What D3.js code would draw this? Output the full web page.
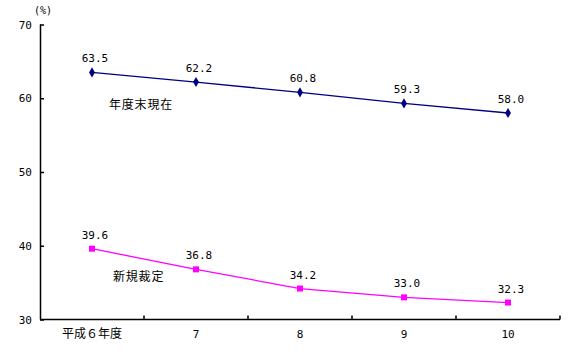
<!DOCTYPE html>
<html><head><meta charset="utf-8">
<script src="https://cdn.jsdelivr.net/npm/d3@7"></script>
<style>body{margin:0;background:#fff}svg{display:block}text{font-family:"DejaVu Sans Mono",monospace;font-size:11px;fill:#000}</style>
</head><body><svg id="c" width="581" height="364"></svg>
<script>
const categories = ["平成６年度", "7", "8", "9", "10"];
const seriesNames = ["年度末現在", "新規裁定"];
const endOfYear = [63.5, 62.2, 60.8, 59.3, 58.0];
const newAward = [39.6, 36.8, 34.2, 33.0, 32.3];
const yTicks = [30, 40, 50, 60, 70];

const svg = d3.select("#c");
const x = d3.scaleBand().domain(categories).range([40, 560]);
const y = d3.scaleLinear().domain([30, 70]).range([319.5, 24.5]);
const cx = d => x(d) + x.bandwidth() / 2;

// y axis
const ya = svg.append("g").attr("transform", "translate(40,0)")
  .call(d3.axisLeft(y).tickValues(yTicks).tickSize(-4).tickPadding(8).tickFormat(d3.format("d")));
ya.select(".domain").attr("stroke", "#000").attr("stroke-width", 1.5).attr("d", `M0.5,${y(70)}V${y(30)}`);
ya.selectAll(".tick line").attr("stroke", "#000").attr("stroke-width", 1.5);
ya.selectAll(".tick text").attr("font-family", "DejaVu Sans Mono").attr("font-size", 11).attr("dx", 0);

// x axis
const xa = svg.append("g").attr("transform", `translate(0,${y(30)})`);
xa.append("path").attr("d", `M40,0H560`).attr("stroke", "#000").attr("stroke-width", 1.5);
const bounds = categories.map(c => x(c)).concat([x(categories[categories.length-1]) + x.bandwidth()]);
xa.selectAll("line.tk").data(bounds.slice(1)).join("line")
  .attr("x1", d => d).attr("x2", d => d).attr("y1", 0).attr("y2", -4)
  .attr("stroke", "#000").attr("stroke-width", 1.5);
xa.selectAll("text").data(categories).join("text")
  .attr("x", cx).attr("y", 18).attr("text-anchor", "middle")
  .style("font-family", (d, i) => i === 0 ? "'Noto Sans CJK JP'" : "'DejaVu Sans Mono'")
  .style("font-size", (d, i) => i === 0 ? "12px" : "11px")
  .text(d => d);

// unit
svg.append("text").attr("x", 43).attr("y", 14).attr("text-anchor", "middle").style("font-size", "10px").text("(%)");

const line = d3.line().x((d, i) => cx(categories[i])).y(d => y(d));

// series 1
svg.append("path").datum(endOfYear).attr("d", line).attr("fill", "none").attr("stroke", "#000080").attr("stroke-width", 1.3);
svg.selectAll("path.dia").data(endOfYear).join("path")
  .attr("d", d3.symbol().type(d3.symbolDiamond).size(30))
  .attr("transform", (d, i) => `translate(${cx(categories[i])},${y(d)})`)
  .attr("fill", "#000080");
// series 2
svg.append("path").datum(newAward).attr("d", line).attr("fill", "none").attr("stroke", "#FF00FF").attr("stroke-width", 1.3);
svg.selectAll("rect.sq").data(newAward).join("rect")
  .attr("x", (d, i) => cx(categories[i]) - 3).attr("y", d => y(d) - 3)
  .attr("width", 6).attr("height", 6).attr("fill", "#FF00FF");

// value labels
[endOfYear, newAward].forEach(s => {
  svg.append("g").selectAll("text").data(s).join("text")
    .attr("x", (d, i) => cx(categories[i]) + 3).attr("y", d => y(d) - 10)
    .attr("text-anchor", "middle").text(d => d.toFixed(1));
});

// series labels
svg.append("text").attr("x", 109).attr("y", 109).style("font-family", "'Noto Sans CJK JP'").style("font-size", "12px").style("letter-spacing", "0.8px").text(seriesNames[0]);
svg.append("text").attr("x", 113).attr("y", 281).style("font-family", "'Noto Sans CJK JP'").style("font-size", "12px").style("letter-spacing", "0.8px").text(seriesNames[1]);
</script></body></html>
